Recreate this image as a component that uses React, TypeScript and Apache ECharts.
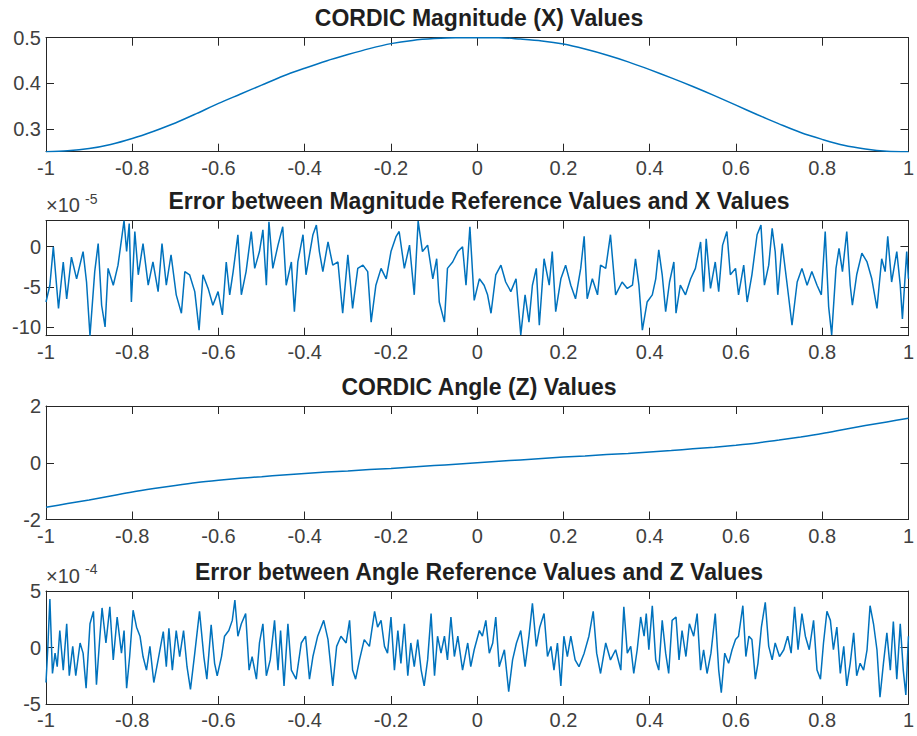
import React, { useEffect, useRef } from "react";
import * as echarts from "echarts";

// ---------- data ----------
const xSmooth = [-1, -0.95, -0.9, -0.85, -0.8, -0.75, -0.7, -0.65, -0.6, -0.55, -0.5, -0.45, -0.4, -0.35, -0.3, -0.25, -0.2, -0.15, -0.1, -0.05, 0, 0.05, 0.1, 0.15, 0.2, 0.25, 0.3, 0.35, 0.4, 0.45, 0.5, 0.55, 0.6, 0.65, 0.7, 0.75, 0.8, 0.85, 0.9, 0.95, 1];
const magnitudeX = [0.25, 0.252, 0.257, 0.266, 0.279, 0.295, 0.313, 0.334, 0.356, 0.376, 0.396, 0.416, 0.433, 0.449, 0.463, 0.476, 0.487, 0.494, 0.498, 0.5, 0.5, 0.5, 0.497, 0.493, 0.486, 0.475, 0.462, 0.447, 0.43, 0.412, 0.393, 0.373, 0.352, 0.331, 0.311, 0.292, 0.277, 0.264, 0.256, 0.251, 0.25];
const angleZ = [-1.57, -1.44, -1.31, -1.17, -1.03, -0.91, -0.8, -0.7, -0.62, -0.55, -0.49, -0.43, -0.38, -0.33, -0.29, -0.24, -0.2, -0.15, -0.1, -0.05, 0, 0.05, 0.1, 0.15, 0.2, 0.24, 0.29, 0.33, 0.38, 0.43, 0.49, 0.55, 0.62, 0.7, 0.8, 0.91, 1.03, 1.17, 1.31, 1.44, 1.57];

// magnitude error, values in units of 1e-5
const errMagX = [-1, -0.991, -0.983, -0.971, -0.96, -0.952, -0.941, -0.929, -0.914, -0.906, -0.898, -0.887, -0.879, -0.871, -0.863, -0.856, -0.844, -0.833, -0.819, -0.813, -0.807, -0.802, -0.794, -0.786, -0.775, -0.763, -0.752, -0.74, -0.731, -0.721, -0.71, -0.698, -0.686, -0.678, -0.667, -0.655, -0.645, -0.636, -0.624, -0.613, -0.601, -0.591, -0.582, -0.574, -0.566, -0.555, -0.547, -0.536, -0.524, -0.516, -0.505, -0.497, -0.489, -0.483, -0.474, -0.462, -0.451, -0.443, -0.431, -0.424, -0.416, -0.404, -0.397, -0.381, -0.373, -0.366, -0.358, -0.346, -0.335, -0.323, -0.312, -0.3, -0.289, -0.277, -0.265, -0.254, -0.246, -0.235, -0.223, -0.211, -0.2, -0.188, -0.181, -0.169, -0.157, -0.146, -0.137, -0.127, -0.115, -0.103, -0.094, -0.088, -0.076, -0.069, -0.057, -0.045, -0.034, -0.026, -0.017, -0.007, 0.005, 0.016, 0.024, 0.032, 0.043, 0.055, 0.066, 0.078, 0.09, 0.101, 0.111, 0.12, 0.128, 0.137, 0.144, 0.155, 0.167, 0.174, 0.182, 0.194, 0.205, 0.217, 0.228, 0.24, 0.248, 0.255, 0.267, 0.279, 0.286, 0.298, 0.309, 0.321, 0.336, 0.348, 0.36, 0.367, 0.375, 0.383, 0.394, 0.406, 0.414, 0.421, 0.429, 0.437, 0.446, 0.456, 0.461, 0.471, 0.483, 0.495, 0.506, 0.518, 0.525, 0.531, 0.541, 0.552, 0.56, 0.569, 0.579, 0.587, 0.599, 0.606, 0.618, 0.626, 0.637, 0.649, 0.658, 0.666, 0.676, 0.684, 0.691, 0.697, 0.707, 0.718, 0.73, 0.742, 0.753, 0.765, 0.776, 0.788, 0.798, 0.807, 0.815, 0.822, 0.832, 0.839, 0.847, 0.857, 0.865, 0.87, 0.88, 0.892, 0.904, 0.915, 0.927, 0.938, 0.946, 0.952, 0.961, 0.973, 0.981, 0.986, 0.996, 1];
const errMagY = [-6.9, -4.8, 0, -7.7, -1.9, -6.5, -1.3, -4, -0.6, -4.4, -11.1, -3.1, 0.4, -7.3, -10, -2.7, -4.8, -2.3, 3.25, -0.6, 2.9, -6.9, 1.9, -3.5, 0.4, -4.8, -1.9, -5.6, 0.4, -4.8, -1, -6, -8.3, -3.1, -3.5, -5.6, -10.4, -3.5, -5.2, -7.3, -5.6, -8.5, -1.9, -6, -3.1, 1.5, -6, -3.1, 1.9, -2.7, -0.6, 2.1, -4.8, 3.1, -2.7, 0.2, 2.5, -4.8, -1.9, -8.1, -1.9, 1.5, -3.5, 1.5, 2.7, -0.6, -3.1, 0.6, -2.3, -1.9, -8.3, -1, -7.7, -2.7, -2.3, -3.1, -9.4, -4.8, -2.7, -4, -0.6, 1.3, 1.9, -2.7, 0.2, -6, 3.2, -0.6, 0.2, -4, -1.5, -6.9, -9.4, -2.7, -1.9, -0.6, 0, -4.8, 2.5, -6.7, -4, -4.8, -6, -8.3, -3.5, -2.3, -4.4, -5.6, -4, -11, -6, -9.4, -4.8, -2.7, -9.8, -1.5, -4.8, -0.6, -8.1, -4, -2.3, -4.8, -6.5, -2.7, 1.3, -6.5, -4, -6, -2.3, -2.7, 1.5, -6, -4.4, -5.2, -4.8, -1.5, -4.8, -10.4, -6.9, -6, -4, -0.4, -3.5, -8.1, -4.4, -1.9, -8.3, -4.8, -6, -4, -2.7, 0.6, -5.6, 1, -5.2, -1.9, -5.6, 0.2, 1.9, -3.5, -2.7, -6, -2.3, -6.9, -3.5, 1.5, 2.7, -4.8, -2.3, 2.3, -0.6, -6, 0.4, -4.4, -9.8, -4.4, -2.7, -4.8, -3.1, -4.8, -6, 1.9, -7.5, -11, -2.7, -0.2, -3.1, 1.9, -4.8, -7.3, -3.5, -0.8, -1.9, -4, -7.7, -1.5, -3.1, 1.3, -4.4, -0.6, -4.8, -9, -0.6, -4];

// angle error, values in units of 1e-4
const errAngX = [-1, -0.996, -0.991, -0.985, -0.979, -0.974, -0.968, -0.96, -0.952, -0.946, -0.938, -0.931, -0.921, -0.914, -0.907, -0.898, -0.89, -0.883, -0.875, -0.87, -0.861, -0.852, -0.844, -0.835, -0.825, -0.819, -0.813, -0.806, -0.798, -0.79, -0.782, -0.775, -0.767, -0.759, -0.75, -0.74, -0.728, -0.721, -0.715, -0.707, -0.698, -0.69, -0.681, -0.673, -0.665, -0.655, -0.644, -0.634, -0.627, -0.617, -0.609, -0.603, -0.593, -0.586, -0.576, -0.568, -0.562, -0.555, -0.547, -0.537, -0.529, -0.522, -0.512, -0.505, -0.497, -0.489, -0.48, -0.47, -0.462, -0.456, -0.448, -0.439, -0.431, -0.42, -0.408, -0.398, -0.389, -0.381, -0.37, -0.356, -0.346, -0.335, -0.326, -0.316, -0.304, -0.296, -0.289, -0.282, -0.273, -0.262, -0.25, -0.238, -0.231, -0.223, -0.215, -0.208, -0.2, -0.192, -0.184, -0.177, -0.169, -0.161, -0.154, -0.146, -0.138, -0.13, -0.123, -0.115, -0.107, -0.099, -0.092, -0.084, -0.076, -0.069, -0.061, -0.053, -0.045, -0.034, -0.022, -0.015, -0.007, 0.005, 0.012, 0.02, 0.028, 0.036, 0.043, 0.051, 0.063, 0.073, 0.082, 0.091, 0.101, 0.111, 0.12, 0.128, 0.137, 0.145, 0.155, 0.163, 0.171, 0.178, 0.186, 0.194, 0.201, 0.209, 0.217, 0.227, 0.236, 0.248, 0.259, 0.269, 0.277, 0.286, 0.298, 0.309, 0.321, 0.333, 0.34, 0.348, 0.356, 0.363, 0.371, 0.379, 0.387, 0.392, 0.398, 0.406, 0.414, 0.421, 0.429, 0.437, 0.444, 0.452, 0.461, 0.468, 0.475, 0.484, 0.492, 0.502, 0.51, 0.518, 0.525, 0.533, 0.542, 0.552, 0.56, 0.566, 0.574, 0.583, 0.591, 0.599, 0.606, 0.616, 0.623, 0.63, 0.637, 0.645, 0.651, 0.659, 0.668, 0.676, 0.684, 0.691, 0.701, 0.711, 0.72, 0.728, 0.736, 0.744, 0.753, 0.761, 0.77, 0.78, 0.788, 0.796, 0.803, 0.811, 0.819, 0.826, 0.834, 0.842, 0.85, 0.857, 0.865, 0.873, 0.88, 0.888, 0.896, 0.904, 0.911, 0.919, 0.927, 0.934, 0.942, 0.95, 0.958, 0.965, 0.973, 0.981, 0.988, 0.994, 1];
const errAngY = [-3.1, -0.2, 4.3, -2.3, -0.5, -1.7, 1.5, -2, 2.1, -2.5, 0.1, -2.5, 0.4, -0.5, -3.6, 2.1, 3.2, -3.3, 1, 3.5, 0.4, 3.6, -1.1, 2.7, -0.5, 1.5, -3.6, -0.8, 3.3, 1.8, 1, -0.8, -2, 0.1, -3.1, -1.1, 1.4, -1.7, 1.7, -2, 1.5, -0.8, 1.5, -1.7, -3.7, -0.5, 3.2, -0.8, -2.8, 2, -1.4, -2.5, -0.8, 1, 1.5, 2.4, 4.2, 1, 2.1, 3, -2, -0.8, -2.8, 0.4, 2.1, -2.5, -1.1, 2.4, -2, 1.5, -3.4, 2.1, -2, -2.8, 0.4, 1, -2.8, -0.8, 1, 2.4, 0.7, -3.4, 0.1, 1, 0.4, 2.4, -2, -2.8, -1.1, 0.7, 0.1, 3.2, 1.8, 2.4, 0.1, -0.5, 2.7, -2, 1.5, -1.4, 2.1, -2.5, 0.4, -1.7, 0.7, -2, -3.4, -1.1, 3, -2.5, 1, -0.5, 1, -1.1, 2.7, -0.8, 1, -2, 0.4, -1.7, -0.2, 1.5, 1, 2.4, -0.5, 0.4, 2.7, -1.7, -0.2, -3.9, -1.1, 0.4, 1.5, -1.7, 1, 3.9, 0.1, 1.8, 3, -0.8, 0.1, -2, 0.4, -3.4, 1, -0.8, 1, -1.1, -1.7, -0.5, 1, 3.2, -0.5, -2.3, 0.4, -1.1, -0.2, -2, 3.6, -0.5, 0.1, -2.3, -0.2, 2.7, 1, 3, -0.2, 3.7, -1.1, -2, 2.4, -0.5, -2.3, 2.4, 2.7, -1.1, 1.5, -0.8, 2.1, 1, 3, -2, -0.2, -2.3, -0.5, 3, -2, -4, -0.5, -1.4, -0.2, 0.7, 1, 3.7, -0.8, 1, 0.7, -2.8, -1.4, 1.8, 4, 0.1, -1.1, 0.4, -0.8, -0.2, 1, -0.5, 3.6, -0.2, 3, 1, -0.2, 2.4, -2, -2.8, 0.4, 3.2, 2.4, -0.2, 1.8, -2.3, 0.1, -3.4, -1.4, 1.3, -2.5, -1.4, -2, -0.2, 3.7, 2.1, -0.2, -4.4, -1.4, 1.3, -2, 2.3, -2.8, 2.1, -2, -4.2, 1];

const xTicks = [-1, -0.8, -0.6, -0.4, -0.2, 0, 0.2, 0.4, 0.6, 0.8, 1];
const magTicks = [0.3, 0.4, 0.5];
const errMagTicks = [-10, -5, 0];
const angleTicks = [-2, 0, 2];
const errAngTicks = [-5, 0, 5];

const titles = [
  "CORDIC Magnitude (X) Values",
  "Error between Magnitude Reference Values and X Values",
  "CORDIC Angle (Z) Values",
  "Error between Angle Reference Values and Z Values",
];

export default function App() {
  const ref = useRef<HTMLDivElement>(null);

  useEffect(() => {
    if (!ref.current) return;
    const chart = echarts.init(ref.current, null, { renderer: "svg" });
    const font = "'Liberation Sans', Arial, Helvetica, sans-serif";
    const axisColor = "#262626";
    const labelColor = "#404040";
    const lineColor = "#0072BD";
    const left = 46;
    const right = 5;
    const plotW = 917 - left - right;
    const boxes = [
      { top: 37.7, height: 114 },
      { top: 220.7, height: 115 },
      { top: 406, height: 113.5 },
      { top: 591, height: 113 },
    ];
    const yRanges = [
      { min: 0.25, max: 0.5, ticks: magTicks },
      { min: -11.1, max: 3.25, ticks: errMagTicks },
      { min: -2, max: 2, ticks: angleTicks },
      { min: -5, max: 5, ticks: errAngTicks },
    ];
    const fmt = (v: number) => String(Math.round(v * 10) / 10);

    const xAxis: any[] = [];
    const yAxis: any[] = [];
    boxes.forEach((_, i) => {
      const common = {
        gridIndex: i,
        type: "value",
        min: -1,
        max: 1,
        splitLine: { show: false },
        axisLine: { show: true, onZero: false, lineStyle: { color: axisColor, width: 1 } },
      };
      xAxis.push({
        ...common,
        position: "bottom",
        axisTick: { show: true, inside: true, length: 8, customValues: xTicks, lineStyle: { color: axisColor } },
        axisLabel: { show: true, customValues: xTicks, formatter: fmt, color: labelColor, fontSize: 20, fontFamily: font, margin: 6 },
      });
      xAxis.push({
        ...common,
        position: "top",
        axisTick: { show: true, inside: true, length: 8, customValues: xTicks, lineStyle: { color: axisColor } },
        axisLabel: { show: false },
      });
      const yr = yRanges[i];
      const ycommon = {
        gridIndex: i,
        type: "value",
        min: yr.min,
        max: yr.max,
        splitLine: { show: false },
        axisLine: { show: true, onZero: false, lineStyle: { color: axisColor, width: 1 } },
        axisTick: { show: true, inside: true, length: 8, customValues: yr.ticks, lineStyle: { color: axisColor } },
      };
      yAxis.push({
        ...ycommon,
        position: "left",
        axisLabel: { show: true, customValues: yr.ticks, formatter: fmt, color: labelColor, fontSize: 20, fontFamily: font, margin: 5 },
      });
      yAxis.push({ ...ycommon, position: "right", axisLabel: { show: false } });
    });

    const seriesData = [
      xSmooth.map((x, i) => [x, magnitudeX[i]]),
      errMagX.map((x, i) => [x, errMagY[i]]),
      xSmooth.map((x, i) => [x, angleZ[i]]),
      errAngX.map((x, i) => [x, errAngY[i]]),
    ];
    const series = seriesData.map((d, i) => ({
      type: "line",
      data: d,
      xAxisIndex: i * 2,
      yAxisIndex: i * 2,
      symbol: "none",
      showSymbol: false,
      smooth: i === 0 || i === 2 ? 0.3 : false,
      lineStyle: { color: lineColor, width: 1.5 },
      silent: true,
    }));

    const cx = left + plotW / 2;
    const graphic: any[] = titles.map((t, i) => ({
      type: "text",
      x: cx,
      y: boxes[i].top - 19.5,
      style: {
        text: t,
        textAlign: "center",
        textVerticalAlign: "middle",
        font: `bold 23px ${font}`,
        fill: "#1f1f1f",
      },
    }));
    const mult = [
      { top: boxes[1].top, exp: "-5" },
      { top: boxes[3].top, exp: "-4" },
    ];
    mult.forEach((m) => {
      graphic.push({
        type: "text",
        x: left,
        y: m.top - 15.5,
        style: { text: "×10", textAlign: "left", textVerticalAlign: "middle", font: `20px ${font}`, fill: labelColor },
      });
      graphic.push({
        type: "text",
        x: left + 39,
        y: m.top - 22,
        style: { text: m.exp, textAlign: "left", textVerticalAlign: "middle", font: `14px ${font}`, fill: labelColor },
      });
    });

    chart.setOption({
      animation: false,
      backgroundColor: "#ffffff",
      grid: boxes.map((b) => ({ left, right, top: b.top, height: b.height, show: false, containLabel: false })),
      xAxis,
      yAxis,
      series,
      graphic,
    });
    return () => chart.dispose();
  }, []);

  return <div ref={ref} style={{ position: "fixed", left: 0, top: 0, width: 917, height: 736, background: "#fff" }} />;
}
